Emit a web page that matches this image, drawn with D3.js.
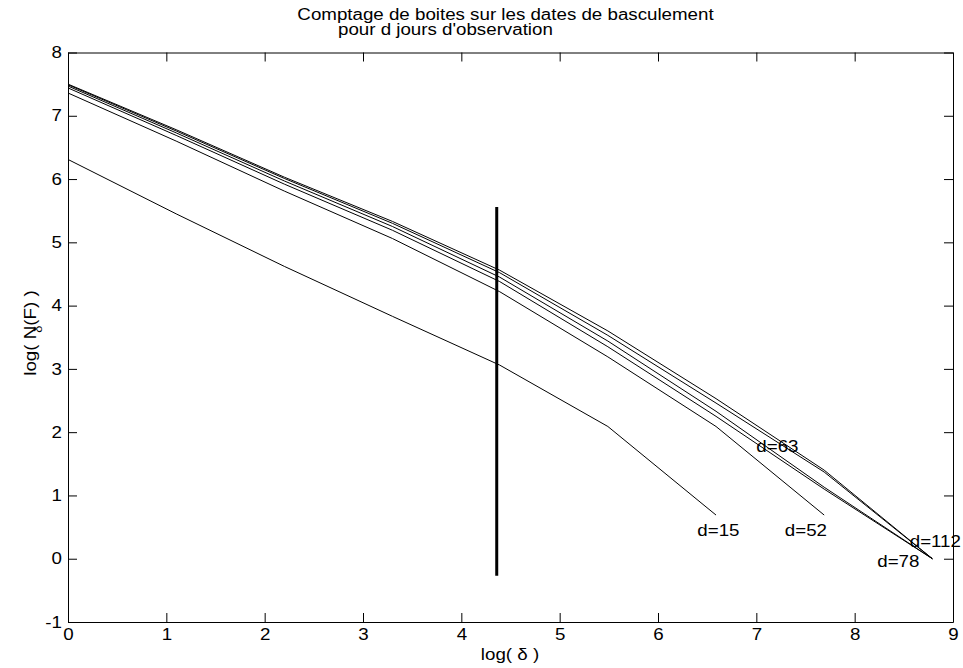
<!DOCTYPE html>
<html>
<head>
<meta charset="utf-8">
<script src="https://cdn.jsdelivr.net/npm/d3@7"></script>
<style>
  html, body { margin: 0; padding: 0; background: #fff; }
  svg { display: block; }
  text { font-family: "Liberation Sans", Arial, sans-serif; fill: #000; }
</style>
</head>
<body>
<svg id="chart" width="963" height="668"></svg>
<script>
// ---- data ----
const logDelta = [0, 1.10, 2.20, 3.30, 4.39, 5.49, 6.59, 7.69, 8.79];
const seriesA = [7.50, 6.78, 6.03, 5.33, 4.56, 3.60, 2.53, 1.40, 0.00];
const seriesB = [7.49, 6.76, 6.01, 5.30, 4.52, 3.53, 2.46, 1.37, 0.00];
const seriesC = [7.47, 6.73, 5.97, 5.25, 4.45, 3.44, 2.33, 1.13, 0.00];
const seriesD = [7.44, 6.69, 5.92, 5.19, 4.38, 3.35, 2.25, 1.10, 0.00];
const seriesE = [7.36, 6.60, 5.81, 5.06, 4.22, 3.19, 2.09, 0.69];
const seriesF = [6.31, 5.45, 4.62, 3.83, 3.06, 2.09, 0.69];
const allSeries = [seriesA, seriesB, seriesC, seriesD, seriesE, seriesF];

const labelTexts = ["d=15", "d=52", "d=63", "d=112", "d=78"];
const labelX = [6.40, 7.29, 7.00, 8.56, 8.23];
const labelY = [0.36, 0.36, 1.69, 0.19, -0.13];

const markerX = 4.36;
const markerY = [-0.27, 5.56];

const xTicks = [0, 1, 2, 3, 4, 5, 6, 7, 8, 9];
const yTicks = [-1, 0, 1, 2, 3, 4, 5, 6, 7, 8];

// ---- layout ----
const L = 68, R = 953, T = 52.5, B = 622;
const svg = d3.select("#chart");
const x = d3.scaleLinear().domain([0, 9]).range([L, R]);
const y = d3.scaleLinear().domain([-1, 8]).range([B, T]);
const tickLen = 9;
const fs = 16;
const stretch = 1.17;

function styleAxis(g) {
  g.selectAll("path.domain").attr("stroke", "#000").attr("stroke-width", 1);
  g.selectAll(".tick line").attr("stroke", "#000").attr("stroke-width", 1);
  g.selectAll(".tick text").attr("font-family", "Liberation Sans, Arial, sans-serif").attr("font-size", fs).attr("fill", "#000");
}
const fmt = d => String(d);

svg.append("g").attr("transform", `translate(0,${B})`)
  .call(d3.axisBottom(x).tickValues(xTicks).tickFormat(fmt).tickSizeInner(-tickLen).tickSizeOuter(0).tickPadding(7))
  .call(styleAxis);
svg.append("g").attr("transform", `translate(0,${T})`)
  .call(d3.axisTop(x).tickValues(xTicks).tickFormat("").tickSizeInner(-tickLen).tickSizeOuter(0))
  .call(styleAxis);
svg.append("g").attr("transform", `translate(${L},0)`)
  .call(d3.axisLeft(y).tickValues(yTicks).tickFormat(fmt).tickSizeInner(-tickLen).tickSizeOuter(0).tickPadding(6))
  .call(styleAxis);
svg.append("g").attr("transform", `translate(${R},0)`)
  .call(d3.axisRight(y).tickValues(yTicks).tickFormat("").tickSizeInner(-tickLen).tickSizeOuter(0))
  .call(styleAxis);

// ---- lines ----
const line = d3.line().x((d, i) => x(logDelta[i])).y(d => y(d));
svg.append("g").selectAll("path.series").data(allSeries).join("path")
  .attr("class", "series")
  .attr("d", d => line(d))
  .attr("fill", "none").attr("stroke", "#000").attr("stroke-width", 1);

// vertical marker
svg.append("line")
  .attr("x1", x(markerX)).attr("x2", x(markerX))
  .attr("y1", y(markerY[0])).attr("y2", y(markerY[1]))
  .attr("stroke", "#000").attr("stroke-width", 3);

// labels
svg.append("g").selectAll("text").data(labelTexts).join("text")
  .attr("x", (d, i) => x(labelX[i])).attr("y", (d, i) => y(labelY[i]))
  .attr("font-size", fs).text(d => d);

// title
svg.append("text").attr("x", 505.5).attr("y", 19.5).attr("text-anchor", "middle")
  .attr("font-size", fs).text("Comptage de boites sur les dates de basculement");
svg.append("text").attr("x", 338).attr("y", 35).attr("text-anchor", "start")
  .attr("font-size", fs).text("pour d jours d'observation");

// x label
svg.append("text").attr("x", 510).attr("y", 660).attr("text-anchor", "middle")
  .attr("font-size", fs).text("log( δ )");

// widen glyphs to match the reference's horizontally stretched lettering
svg.selectAll("text").each(function() {
  const w = this.getComputedTextLength();
  if (w > 0) {
    d3.select(this).attr("textLength", w * stretch).attr("lengthAdjust", "spacingAndGlyphs");
  }
});

// y label (stretched via transform)
const yl = svg.append("text").attr("transform", `translate(36,333) rotate(-90) scale(${stretch},1)`)
  .attr("text-anchor", "middle").attr("font-size", fs);
yl.append("tspan").text("log( N");
yl.append("tspan").attr("font-size", 11).attr("dx", -6).attr("dy", 6).text("δ");
yl.append("tspan").attr("dy", -6).text("(F) )");
</script>
</body>
</html>
